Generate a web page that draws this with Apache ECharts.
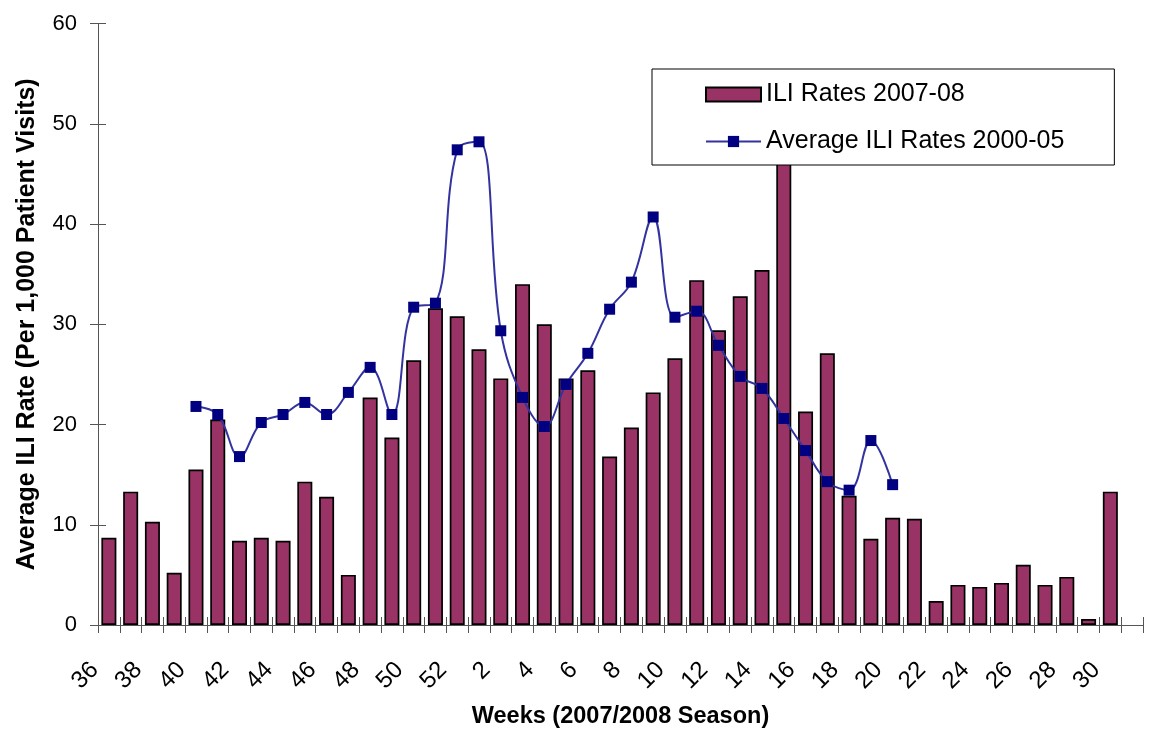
<!DOCTYPE html>
<html>
<head>
<meta charset="utf-8">
<script src="https://cdn.jsdelivr.net/npm/echarts@6/dist/echarts.min.js"></script>
<style>html,body{margin:0;padding:0;background:#fff;}#c{width:1149px;height:734px;}</style>
</head>
<body>
<div id="c"></div>
<script>
var weeks = ['36','37','38','39','40','41','42','43','44','45','46','47','48','49','50','51','52',
  '1','2','3','4','5','6','7','8','9','10','11','12','13','14','15','16','17','18','19','20',
  '21','22','23','24','25','26','27','28','29','30','31'];
var ili2007 = [8.7, 13.3, 10.3, 5.2, 15.5, 20.5, 8.4, 8.7, 8.4, 14.3, 12.8, 5.0, 22.7, 18.7,
  26.4, 31.6, 30.8, 27.5, 24.6, 34.0, 30.0, 24.6, 25.4, 16.8, 19.7, 23.2, 26.6, 34.4, 29.4, 32.8, 35.4, 50,
  21.3, 27.1, 12.9, 8.6, 10.7, 10.6, 2.4, 4.0, 3.8, 4.2, 6.0, 4.0, 4.8, 0.6, 13.3, null];
var avg2000 = [null, null, null, null,
  21.8, 21.0, 16.8, 20.2, 21.0, 22.2, 21.0, 23.2, 25.7, 21.0, 31.7, 32.1, 47.4, 48.2, 29.35, 22.7,
  19.8, 24.0, 27.1, 31.5, 34.2, 40.7, 30.7, 31.3, 27.9, 24.8, 23.6, 20.6, 17.4, 14.3, 13.45, 18.4, 14.0,
  null, null, null, null, null, null, null, null, null, null, null];
var yTicks = {min: 0, max: 60, interval: 10};

var FONT = 'Liberation Sans, Arial, sans-serif';
var chart = echarts.init(document.getElementById('c'));
var axisCol = '#555';
chart.setOption({
  animation: false,
  backgroundColor: '#fff',
  grid: {left: 98, right: 6, top: 23.5, bottom: 107},
  legend: {
    orient: 'vertical', left: 652, top: 69,
    padding: [13, 50, 11, 53], itemGap: 22,
    itemWidth: 55, itemHeight: 14,
    backgroundColor: '#fff', borderColor: '#000', borderWidth: 1,
    textStyle: {fontFamily: FONT, fontSize: 25, color: '#000'},
    data: [{name: 'ILI Rates 2007-08', icon: 'rect'}, {name: 'Average ILI Rates 2000-05'}]
  },
  xAxis: [{
    type: 'category', data: weeks, boundaryGap: true,
    name: 'Weeks (2007/2008 Season)', nameLocation: 'middle', nameGap: 80,
    nameTextStyle: {fontFamily: FONT, fontSize: 23.5, fontWeight: 'bold', color: '#000'},
    axisLine: {lineStyle: {color: axisCol, width: 1}},
    axisTick: {show: true, interval: 0, length: 8, lineStyle: {color: axisCol}},
    axisLabel: {interval: 1, rotate: 45, margin: 27, padding: [0, 20, 0, 0],
      fontFamily: FONT, fontSize: 24, color: '#000'},
    splitLine: {show: false}
  }, {
    type: 'category', data: weeks, boundaryGap: true, position: 'bottom',
    axisLine: {show: false},
    axisTick: {show: true, interval: 0, inside: true, length: 8, lineStyle: {color: axisCol}},
    axisLabel: {show: false}, splitLine: {show: false}
  }],
  yAxis: [{
    type: 'value', min: yTicks.min, max: yTicks.max, interval: yTicks.interval,
    name: 'Average ILI Rate (Per 1,000 Patient Visits)', nameLocation: 'middle', nameGap: 58,
    nameTextStyle: {fontFamily: FONT, fontSize: 25, fontWeight: 'bold', color: '#000'},
    axisLine: {show: true, lineStyle: {color: axisCol, width: 1}},
    axisTick: {show: true, length: 8, lineStyle: {color: axisCol}},
    axisLabel: {margin: 21, fontFamily: FONT, fontSize: 22, color: '#000'},
    splitLine: {show: false}
  }, {
    type: 'value', min: yTicks.min, max: yTicks.max, interval: yTicks.interval, position: 'left',
    axisLine: {show: false},
    axisTick: {show: true, inside: true, length: 8, lineStyle: {color: axisCol}},
    axisLabel: {show: false}, splitLine: {show: false}
  }],
  series: [{
    name: 'ILI Rates 2007-08', type: 'bar', data: ili2007, barWidth: 15,
    xAxisIndex: 0, yAxisIndex: 0,
    itemStyle: {color: '#993366', borderColor: '#000', borderWidth: 1.7},
    z: 2
  }, {
    name: 'Average ILI Rates 2000-05', type: 'line', data: avg2000, smooth: 0.4,
    xAxisIndex: 1, yAxisIndex: 1,
    symbol: 'rect', symbolSize: 11, showSymbol: true,
    lineStyle: {color: '#3333a0', width: 2},
    itemStyle: {color: '#000080'},
    z: 3
  }]
});
</script>
</body>
</html>
